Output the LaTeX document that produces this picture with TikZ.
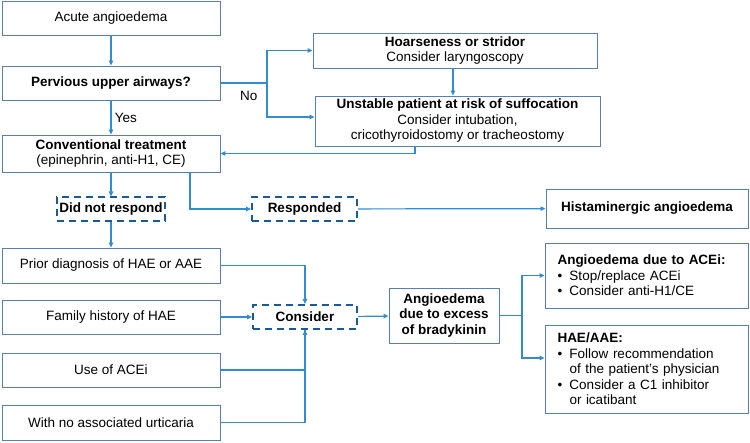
\documentclass[tikz,border=0pt]{standalone}
\usepackage{fontspec}
\setmainfont{Liberation Sans}
\usetikzlibrary{arrows.meta, positioning, calc}

\definecolor{boxc}{RGB}{92,124,182}
\definecolor{linec}{RGB}{52,140,208}
\definecolor{dashc}{RGB}{28,90,150}

\tikzset{
  bfont/.style={font=\fontsize{13.5}{15.5}\selectfont\bfseries},
  box/.style={draw=boxc, line width=0.9pt, fill=white, align=center, inner sep=0pt,
    minimum width=218pt, minimum height=34pt},
  listbox/.style={draw=boxc, line width=0.9pt, fill=white, align=left, inner sep=0pt,
    text width=178pt, minimum width=203pt},
  dbox/.style={draw=dashc, line width=2pt, dash pattern=on 7pt off 5pt, fill=white,
    inner sep=0pt, minimum height=24pt, bfont},
  link/.style={draw=linec, line width=1.2pt, -{Triangle[length=5pt,width=4.5pt]}},
  plain/.style={draw=linec, line width=1.2pt},
}
\newcommand{\bitem}[1]{\makebox[12pt][l]{\textbullet}#1}
\newcommand{\bcont}[1]{\hspace*{12pt}#1}

\begin{document}
\begin{tikzpicture}[x=1pt, y=-1pt, font=\fontsize{13.5}{15.5}\selectfont]
\useasboundingbox (0,0) rectangle (750,443);
% Left column
\node[box] (acute) at (111,18) {Acute angioedema};
\node[box, bfont] (pervious) at (111,83) {Pervious upper airways?};
\node[box, minimum height=37pt] (conv) at (111,153.5) {\textbf{Conventional treatment}\\(epinephrin, anti-H1, CE)};
\node[dbox, minimum width=108pt] (noresp) at (111,209.5) {Did not respond};
\node[box, minimum height=35pt] (prior) at (111,265.5) {Prior diagnosis of HAE or AAE};
\node[box] (family) at (111,317) {Family history of HAE};
\node[box] (useace) at (111,370) {Use of ACEi};
\node[box, minimum height=35pt] (urtic) at (111,422.5) {With no associated urticaria};
% Airway branch
\node[box, minimum width=284pt, minimum height=35pt] (hoarse) at (455,50.5) {\textbf{Hoarseness or stridor}\\Consider laryngoscopy};
\node[box, minimum width=285pt, minimum height=50pt] (unstable) at (457.5,121) {\textbf{Unstable patient at risk of suffocation}\\Consider intubation,\\cricothyroidostomy or tracheostomy};
% Middle and right
\node[dbox, minimum width=105pt] (resp) at (304.5,209) {Responded};
\node[box, minimum width=202pt, minimum height=39pt, bfont] (hist) at (647,208.5) {Histaminergic angioedema};
\node[dbox, minimum width=104pt] (consider) at (305,317) {Consider};
\node[box, minimum width=110pt, minimum height=55pt, bfont] (brady) at (444,315.5) {Angioedema\\due to excess\\of bradykinin};
\node[listbox, minimum height=65pt] (acei) at (646.5,275.5) {\textbf{Angioedema due to ACEi:}\\\bitem{Stop/replace ACEi}\\\bitem{Consider anti-H1/CE}};
\node[listbox, minimum height=88pt] (hae) at (646.5,369) {\textbf{HAE/AAE:}\\\bitem{Follow recommendation}\\\bcont{of the patient's physician}\\\bitem{Consider a C1 inhibitor}\\\bcont{or icatibant}};
% Arrows
\coordinate (split) at (267,83);
\coordinate (fork) at (522,315.5);
\draw[link] (acute) -- (pervious);
\draw[plain] (pervious.east) -- (split);
\node[anchor=north east] (nolab) at (261,88) {No};
\draw[link] (split) |- (hoarse.west);
\draw[link] (split) |- ([yshift=4pt]unstable.west);
\draw[link] (hoarse.south -| 453,0) -- (unstable.north -| 453,0);
\draw[link] ([xshift=-42.5pt]unstable.south) |- (conv.east);
\draw[link] (pervious) -- node[right] {Yes} (conv);
\draw[link] (conv) -- (noresp);
\draw[link] ([xshift=79pt]conv.south) |- (resp.west);
\draw[link] (resp) -- (hist);
\draw[link] (noresp) -- (prior);
\draw[link] (prior.east) -| (consider.north);
\draw[link] (family) -- (consider);
\draw[plain] (useace.east) -| (consider.south);
\draw[link] (urtic.east) -| (consider.south);
\draw[link] (consider) -- (brady);
\draw[plain] (brady.east) -- (fork);
\draw[link] (fork) |- (acei.west);
\draw[link] (fork) |- ([yshift=11pt]hae.west);
\end{tikzpicture}
\end{document}
